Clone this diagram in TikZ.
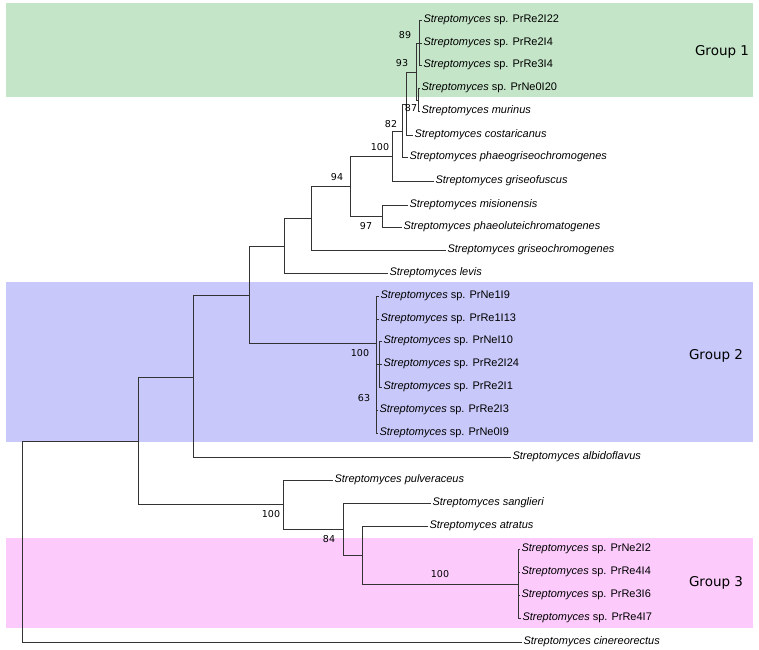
\documentclass[tikz,border=0pt]{standalone}
\usepackage{fontspec}
\setmainfont{Liberation Sans}
\newfontfamily\grpfont{DejaVu Sans}
\usepackage{tikz}

\newcommand{\strain}[1]{\textit{Streptomyces} sp. #1}
\newcommand{\species}[1]{\textit{Streptomyces #1}}

\begin{document}
\begin{tikzpicture}[x=1pt, y=-1pt,
    %Option for the tree
    inner sep=0pt, outer sep=0pt,%
    branch/.style={draw=treegray, line width=1pt},
    leaf/.style={anchor=west, inner sep=1.5pt, font=\fontsize{11}{13}\selectfont},
    boot/.style={font=\grpfont\fontsize{9.5}{11}\selectfont, text=black},
    group/.style={font=\grpfont\fontsize{13.5}{15}\selectfont},
    band/.style={fill=#1, draw=none},
]
    % Colors
    \definecolor{treegray}{HTML}{333333}
    \definecolor{greenband}{HTML}{C4E5C8}
    \definecolor{blueband}{HTML}{C8C8FA}
    \definecolor{pinkband}{HTML}{FCCBFC}

    % Frame
    \useasboundingbox (0,0) rectangle (759,649);

    % Group bands
    \fill[band=greenband] (6,3) rectangle (753,97);
    \fill[band=blueband] (6,282) rectangle (753,442);
    \fill[band=pinkband] (6,538) rectangle (753,628);

    \node[group] (grp1) at (722,52) {Group 1};
    \node[group] (grp2) at (716,356) {Group 2};
    \node[group] (grp3) at (716,583) {Group 3};

    % Leaves
    \node[leaf] (l1) at (422,20) {\strain{PrRe2I22}};
    \node[leaf] (l2) at (422,43) {\strain{PrRe2I4}};
    \node[leaf] (l3) at (422,65) {\strain{PrRe3I4}};
    \node[leaf] (l4) at (420,88) {\strain{PrNe0I20}};
    \node[leaf] (l5) at (420,111) {\species{murinus}};
    \node[leaf] (l6) at (413,135) {\species{costaricanus}};
    \node[leaf] (l7) at (408,157) {\species{phaeogriseochromogenes}};
    \node[leaf] (l8) at (434,181) {\species{griseofuscus}};
    \node[leaf] (l9) at (408,205) {\species{misionensis}};
    \node[leaf] (l10) at (402,227) {\species{phaeoluteichromatogenes}};
    \node[leaf] (l11) at (446,250) {\species{griseochromogenes}};
    \node[leaf] (l12) at (388,273) {\species{levis}};
    \node[leaf] (l13) at (379,296) {\strain{PrNe1I9}};
    \node[leaf] (l14) at (379,319) {\strain{PrRe1I13}};
    \node[leaf] (l15) at (382,341) {\strain{PrNeI10}};
    \node[leaf] (l16) at (382,364) {\strain{PrRe2I24}};
    \node[leaf] (l17) at (382,387) {\strain{PrRe2I1}};
    \node[leaf] (l18) at (378,410) {\strain{PrRe2I3}};
    \node[leaf] (l19) at (378,433) {\strain{PrNe0I9}};
    \node[leaf] (l20) at (511,457) {\species{albidoflavus}};
    \node[leaf] (l21) at (333,480) {\species{pulveraceus}};
    \node[leaf] (l22) at (431,503) {\species{sanglieri}};
    \node[leaf] (l23) at (428,526) {\species{atratus}};
    \node[leaf] (l24) at (520,549) {\strain{PrNe2I2}};
    \node[leaf] (l25) at (520,572) {\strain{PrRe4I4}};
    \node[leaf] (l26) at (520,595) {\strain{PrRe3I6}};
    \node[leaf] (l27) at (521,618) {\strain{PrRe4I7}};
    \node[leaf] (l28) at (522,642) {\species{cinereorectus}};

    % Inner nodes
    \coordinate (n1) at (419,43);
    \coordinate (n2) at (418,100);
    \coordinate (n3) at (416,72);
    \coordinate (n4) at (406,104);
    \coordinate (n5) at (402,131);
    \coordinate (n6) at (392,156);
    \coordinate (n7) at (350,186);
    \coordinate (n8) at (382,216);
    \coordinate (n9) at (311,218);
    \coordinate (n10) at (284,246);
    \coordinate (n11) at (249,295);
    \coordinate (n12) at (376,343);
    \coordinate (n12b) at (379,364);
    \coordinate (n13) at (193,377);
    \coordinate (n14) at (138,441);
    \coordinate (n15) at (283,504);
    \coordinate (n16) at (343,529);
    \coordinate (n17) at (362,555);
    \coordinate (n18) at (518,584);
    \coordinate (root) at (22,541);

    % Branches
    \foreach \c in {l1,l2,l3} \draw[branch] (n1) |- (\c.west);
    \foreach \c in {l4,l5} \draw[branch] (n2) |- (\c.west);
    \draw[branch] (n3) |- (n1);
    \draw[branch] (n3) |- (n2);
    \draw[branch] (n4) |- (n3);
    \draw[branch] (n4) |- (l6.west);
    \draw[branch] (n5) |- (n4);
    \draw[branch] (n5) |- (l7.west);
    \draw[branch] (n6) |- (n5);
    \draw[branch] (n6) |- (l8.west);
    \foreach \c in {l9,l10} \draw[branch] (n8) |- (\c.west);
    \draw[branch] (n7) |- (n6);
    \draw[branch] (n7) |- (n8);
    \draw[branch] (n9) |- (n7);
    \draw[branch] (n9) |- (l11.west);
    \draw[branch] (n10) |- (n9);
    \draw[branch] (n10) |- (l12.west);
    \foreach \c in {l15,l16,l17} \draw[branch] (n12b) |- (\c.west);
    \foreach \c in {l13,l14,l18,l19} \draw[branch] (n12) |- (\c.west);
    \draw[branch] (n12) |- (n12b);
    \draw[branch] (n11) |- (n10);
    \draw[branch] (n11) |- (n12);
    \draw[branch] (n13) |- (n11);
    \draw[branch] (n13) |- (l20.west);
    \foreach \c in {l24,l25,l26,l27} \draw[branch] (n18) |- (\c.west);
    \draw[branch] (n17) |- (l23.west);
    \draw[branch] (n17) |- (n18);
    \draw[branch] (n16) |- (l22.west);
    \draw[branch] (n16) |- (n17);
    \draw[branch] (n15) |- (l21.west);
    \draw[branch] (n15) |- (n16);
    \draw[branch] (n14) |- (n13);
    \draw[branch] (n14) |- (n15);
    \draw[branch] (root) |- (n14);
    \draw[branch] (root) |- (l28.west);

    % Bootstrap values
    \node[boot] (b1) at (405,35) {89};
    \node[boot] (b2) at (402,63) {93};
    \node[boot] (b3) at (411,108) {87};
    \node[boot] (b4) at (391,124) {82};
    \node[boot] (b5) at (380,147) {100};
    \node[boot] (b6) at (337,177) {94};
    \node[boot] (b7) at (366,226) {97};
    \node[boot] (b8) at (360,353) {100};
    \node[boot] (b9) at (364,398) {63};
    \node[boot] (b10) at (271,514) {100};
    \node[boot] (b11) at (329,539) {84};
    \node[boot] (b12) at (440,574) {100};

\end{tikzpicture}
\end{document}
